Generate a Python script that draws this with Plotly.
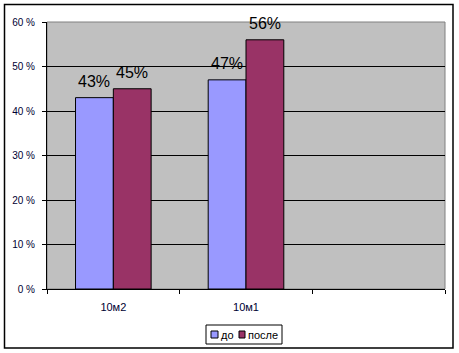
import plotly.graph_objects as go

categories = ["10м2", "10м1", " "]
before = [0.43, 0.47, None]
after = [0.45, 0.56, None]
before_labels = ["43%", "47%", ""]
after_labels = ["45%", "56%", ""]
series_names = ["до", "после"]
series_colors = ["#9999FF", "#993366"]
y_tickvals = [0, 0.1, 0.2, 0.3, 0.4, 0.5, 0.6]
y_ticktext = ["0 %", "10 %", "20 %", "30 %", "40 %", "50 %", "60 %"]

FONT = "Liberation Sans, Arial, sans-serif"
W, H = 459, 353
L, R, T, B = 47, 14, 22, 64
PW, PH = W - L - R, H - T - B


def px_x(x):
    return (x - L) / PW


def px_y(y):
    return (H - B - y) / PH


fig = go.Figure()
for vals, name, col in [(before, series_names[0], series_colors[0]),
                        (after, series_names[1], series_colors[1])]:
    fig.add_trace(go.Bar(
        x=categories, y=vals, name=name,
        marker=dict(color=col, line=dict(color="black", width=1)),
        showlegend=False,
    ))

annotations = []
for i, c in enumerate(categories):
    for vals, labs, shift in [(before, before_labels, -19), (after, after_labels, 19)]:
        if vals[i] is None:
            continue
        annotations.append(dict(
            x=c, y=vals[i], xref="x", yref="y", text=labs[i], showarrow=False,
            xshift=shift, yshift=6, yanchor="bottom",
            font=dict(family=FONT, size=16, color="black"),
        ))

# legend (drawn manually to match compact Excel legend)
leg_items = [(211, 218, series_colors[0], series_names[0], 219),
             (239, 245, series_colors[1], series_names[1], 246)]
shapes = [
    dict(type="rect", xref="paper", yref="paper", x0=0, x1=1, y0=0, y1=1,
         line=dict(color="#808080", width=1), layer="below"),
    dict(type="rect", xref="paper", yref="paper",
         x0=px_x(4.5), x1=px_x(453), y0=px_y(348), y1=px_y(4.5),
         line=dict(color="black", width=1.5)),
    dict(type="rect", xref="paper", yref="paper",
         x0=px_x(206), x1=px_x(282), y0=px_y(344), y1=px_y(325),
         line=dict(color="black", width=1), fillcolor="white"),
]
for x0, x1, col, name, tx in leg_items:
    shapes.append(dict(type="rect", xref="paper", yref="paper",
                       x0=px_x(x0), x1=px_x(x1), y0=px_y(338), y1=px_y(331),
                       line=dict(color="black", width=1), fillcolor=col))
    annotations.append(dict(x=px_x(tx), y=px_y(334.5), xref="paper", yref="paper",
                            text=name, showarrow=False, xanchor="left", yanchor="middle",
                            font=dict(family=FONT, size=11, color="black")))

fig.update_layout(
    width=W, height=H,
    margin=dict(l=L, r=R, t=T, b=B, autoexpand=False),
    paper_bgcolor="white",
    plot_bgcolor="#C0C0C0",
    barmode="group",
    bargap=0.43,
    bargroupgap=0,
    font=dict(family=FONT, size=10, color="black"),
    showlegend=False,
    xaxis=dict(
        type="category", tickson="boundaries",
        ticks="outside", ticklen=4, tickcolor="black",
        showline=True, linecolor="black", linewidth=1,
        showgrid=False, ticklabelstandoff=8,
        tickfont=dict(family=FONT, size=11, color="#000033"),
    ),
    yaxis=dict(
        range=[0, 0.6], tickvals=y_tickvals, ticktext=y_ticktext,
        ticks="outside", ticklen=4, tickcolor="black",
        showline=True, linecolor="black", linewidth=1,
        showgrid=True, gridcolor="black", gridwidth=1,
        zeroline=False, ticklabelstandoff=5,
        tickfont=dict(family=FONT, size=10, color="#000033"),
    ),
    shapes=shapes,
    annotations=annotations,
)

fig.write_html("out.html")
